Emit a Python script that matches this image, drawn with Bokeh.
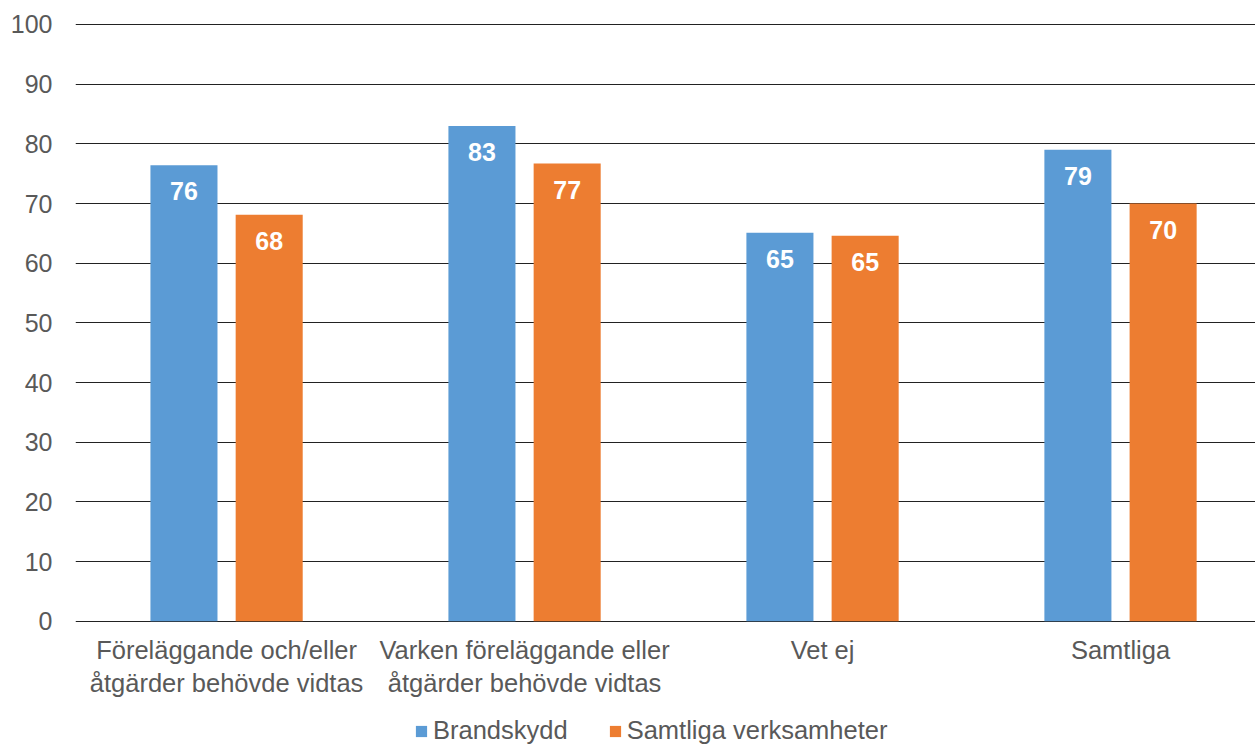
from bokeh.plotting import figure
from bokeh.models import ColumnDataSource, FixedTicker, Legend, LegendItem, Range1d
from bokeh.layouts import column
from bokeh.core.properties import value
from bokeh.embed import file_html
from bokeh.resources import INLINE

categories = ["Föreläggande och/eller\nåtgärder behövde vidtas",
              "Varken föreläggande eller\nåtgärder behövde vidtas",
              "Vet ej",
              "Samtliga"]
brandskydd = [76.4, 83.0, 65.1, 79.0]
samtliga = [68.1, 76.7, 64.6, 70.0]
series_names = ["Brandskydd", "Samtliga verksamheter"]
y_ticks = [0, 10, 20, 30, 40, 50, 60, 70, 80, 90, 100]

BLUE = "#5B9BD5"
ORANGE = "#ED7D31"
GRAY = "#595959"
FONT = "Liberation Sans"

xs = list(range(len(categories)))
off = 0.143
bw = 0.225

src_b = ColumnDataSource(dict(x=[i - off for i in xs], top=brandskydd,
                              lab=[str(int(round(v))) for v in brandskydd]))
src_o = ColumnDataSource(dict(x=[i + off for i in xs], top=samtliga,
                              lab=[str(int(round(v))) for v in samtliga]))

p = figure(width=1255, height=712,
           output_backend="svg", toolbar_location=None,
           x_range=Range1d(-0.507, 3.453), y_range=Range1d(-0.2, 100.5),
           min_border_left=75, min_border_right=0, min_border_top=21, min_border_bottom=90)
p.outline_line_color = None
p.background_fill_color = "white"
p.border_fill_color = "white"

p.vbar(x="x", top="top", bottom=0, width=bw, source=src_b, color=BLUE, line_color=None)
p.vbar(x="x", top="top", bottom=0, width=bw, source=src_o, color=ORANGE, line_color=None)

for src in (src_b, src_o):
    p.text(x="x", y="top", text="lab", source=src, text_color="white",
           text_font=value(FONT), text_font_style="bold", text_font_size="25px",
           text_align="center", text_baseline="middle", y_offset=26)

p.yaxis.ticker = FixedTicker(ticks=y_ticks)
p.yaxis.axis_line_color = None
p.yaxis.major_tick_line_color = None
p.yaxis.minor_tick_line_color = None
p.yaxis.major_label_text_font = FONT
p.yaxis.major_label_text_font_size = "25px"
p.yaxis.major_label_text_color = GRAY
p.yaxis.major_label_standoff = 17

p.xaxis.ticker = FixedTicker(ticks=xs)
p.xaxis.major_label_overrides = {i: c for i, c in zip(xs, categories)}
p.xaxis.axis_line_color = None
p.xaxis.major_tick_line_color = None
p.xaxis.minor_tick_line_color = None
p.xaxis.major_label_text_font = FONT
p.xaxis.major_label_text_font_size = "25.5px"
p.xaxis.major_label_text_color = GRAY
p.xaxis.major_label_standoff = 7

p.xgrid.grid_line_color = None
p.ygrid.grid_line_color = "#222222"
p.ygrid.grid_line_width = 1

# legend strip (its bars lie outside the visible range; only the legend shows)
p2 = figure(width=1255, height=33, output_backend="svg", toolbar_location=None,
            x_range=Range1d(100, 101), y_range=Range1d(1000, 1001),
            x_axis_type=None, y_axis_type=None,
            min_border_left=0, min_border_right=0, min_border_top=0, min_border_bottom=0)
p2.outline_line_color = None
p2.xgrid.grid_line_color = None
p2.ygrid.grid_line_color = None
p2.border_fill_color = "white"
p2.background_fill_color = "white"
lb = p2.vbar(x="x", top="top", bottom=0, width=bw, source=src_b, color=BLUE, line_color=None)
lo = p2.vbar(x="x", top="top", bottom=0, width=bw, source=src_o, color=ORANGE, line_color=None)

legend = Legend(items=[LegendItem(label=series_names[0], renderers=[lb]),
                       LegendItem(label=series_names[1], renderers=[lo])],
                orientation="horizontal", location=(339, 0),
                glyph_width=14, glyph_height=14, label_text_font=FONT,
                label_text_font_size="25.5px", label_text_color=GRAY,
                label_standoff=5, spacing=40, padding=0, margin=0,
                border_line_color=None, background_fill_alpha=0)
p2.add_layout(legend, "center")

layout = column(p, p2, spacing=0)
open("out.html", "w").write(file_html(layout, INLINE))
